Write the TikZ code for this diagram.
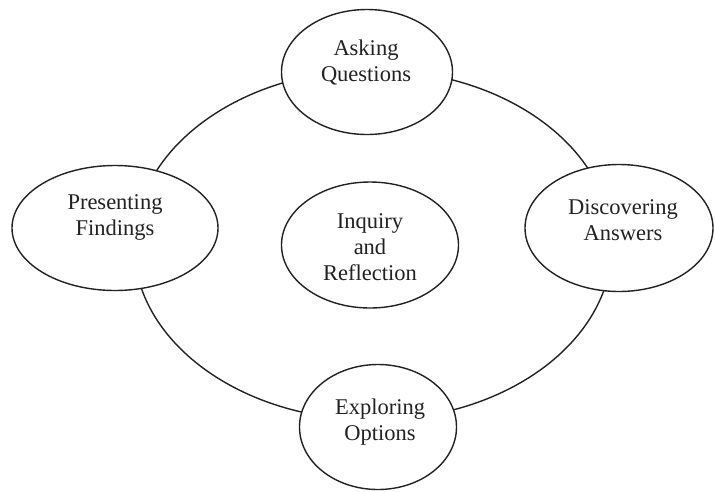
\documentclass[tikz,border=0pt]{standalone}
\usepackage{fontspec}
\setmainfont{Liberation Serif}
\usetikzlibrary{shapes.geometric}
\definecolor{ink}{HTML}{222222}
\begin{document}
\begin{tikzpicture}[x=1pt,y=-1pt,
  loop/.style={draw=ink, line width=1.4pt, ellipse, inner sep=0pt},
  bubble/.style={loop, fill=white},
  caption/.style={text=ink, font=\fontsize{22.5}{26}\selectfont, align=center, inner sep=0pt}]
\useasboundingbox (0,0) rectangle (715,491);
% the cycle that joins the four stages
\node[loop, minimum width=478pt, minimum height=350pt] (ring) at (373,245) {};
% stage bubbles
\node[bubble, minimum width=171pt, minimum height=125pt] (ask) at (367,72) {};
\node[bubble, minimum width=206pt, minimum height=125pt] (present) at (115,228) {};
\node[bubble, minimum width=188pt, minimum height=127pt] (discover) at (619,228) {};
\node[bubble, minimum width=157pt, minimum height=125pt] (explore) at (378,427) {};
\node[bubble, minimum width=177pt, minimum height=126pt] (inquiry) at (370,245) {};
% labels
\node[caption] (askT) at (366,63) {Asking\\Questions};
\node[caption] (presentT) at (115,217) {Presenting\\Findings};
\node[caption] (discoverT) at (623,220) {Discovering\\Answers};
\node[caption] (exploreT) at (380,422) {Exploring\\Options};
\node[caption] (inquiryT) at (370,247) {Inquiry\\and\\Reflection};
\end{tikzpicture}
\end{document}
